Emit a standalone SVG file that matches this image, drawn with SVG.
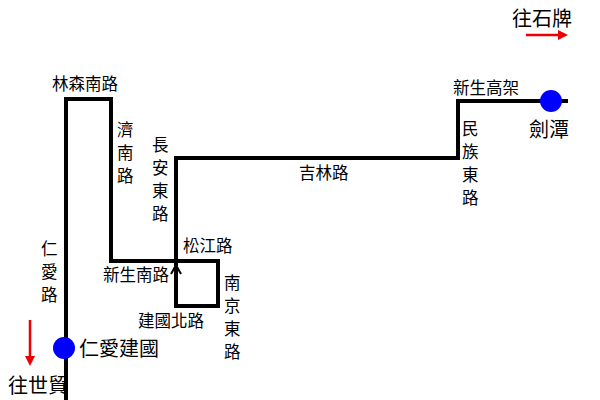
<svg xmlns="http://www.w3.org/2000/svg" width="600" height="400" viewBox="0 0 600 400">
<style>
text{font-family:"Noto Sans CJK TC","Noto Sans",sans-serif;font-size:16.5px;fill:#000}
.big{font-size:20px}
.route{fill:none;stroke:#000;stroke-width:4}
</style>
<rect width="600" height="400" fill="#fff"/>
<g id="connectors">
<path class="route" d="M66,400 V99 H111 V261 H218 V306 H176 V158 H458 V101 H568"/>
<path d="M171,274 L176,265 L181,274" fill="none" stroke="#000" stroke-width="2"/>
<path d="M30,320 V362" stroke="#e00" stroke-width="2.5"/>
<path d="M25,356 L30,366 L35,356 Z" fill="#e00"/>
<path d="M526,35 H562" stroke="#e00" stroke-width="2.5"/>
<path d="M558,30 L568,35 L558,40 Z" fill="#e00"/>
</g>
<g id="renai"><circle cx="64" cy="348" r="11" fill="#00f"/><text x="79" y="356" class="big">仁愛建國</text></g>
<g id="jiantan"><circle cx="551" cy="101" r="11" fill="#00f"/><text x="529" y="137" class="big">劍潭</text></g>
<g id="labels">
<text x="8" y="393" class="big">往世貿</text>
<text x="512" y="26" class="big">往石牌</text>
<text x="52" y="90">林森南路</text>
<text x="41" y="255">仁</text><text x="41" y="278">愛</text><text x="41" y="301">路</text>
<text x="117" y="136">濟</text><text x="117" y="159">南</text><text x="117" y="182">路</text>
<text x="152" y="151">長</text><text x="152" y="174">安</text><text x="152" y="197">東</text><text x="152" y="220">路</text>
<text x="299" y="179">吉林路</text>
<text x="453" y="94">新生高架</text>
<text x="462" y="135">民</text><text x="462" y="158">族</text><text x="462" y="181">東</text><text x="462" y="204">路</text>
<text x="183" y="252">松江路</text>
<text x="103" y="281">新生南路</text>
<text x="224" y="289">南</text><text x="224" y="312">京</text><text x="224" y="335">東</text><text x="224" y="358">路</text>
<text x="138" y="327">建國北路</text>
</g>
</svg>
